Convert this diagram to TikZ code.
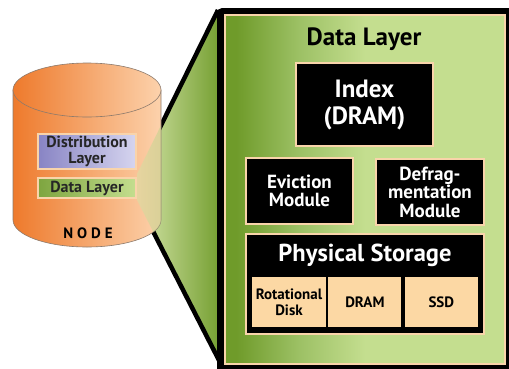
\documentclass[tikz,border=0pt]{standalone}
\usepackage{fontspec}
\setmainfont{PT Sans}
\usetikzlibrary{positioning}
\definecolor{cream}{HTML}{F9D4AA}
\definecolor{orangedark}{HTML}{EE7A2C}
\definecolor{peach}{HTML}{FCD2AC}
\definecolor{cylline}{HTML}{8C7A6C}
\definecolor{purpledark}{HTML}{8884C4}
\definecolor{purplelight}{HTML}{D6D5EF}
\definecolor{greendark}{HTML}{6F9B2A}
\definecolor{greenmid}{HTML}{9CC064}
\definecolor{greenlight}{HTML}{C4DE8F}
\definecolor{wedgelight}{HTML}{D4E4A8}
\definecolor{diskfill}{HTML}{FCD8A4}
\pgfdeclarehorizontalshading{panel shade}{100bp}{color(0bp)=(greendark); color(27bp)=(greendark); color(38bp)=(greenmid); color(50bp)=(greenlight); color(100bp)=(greenlight)}

\begin{document}
\begin{tikzpicture}[x=1pt,y=-1pt,
  layer box/.style={draw=cream,line width=2pt,minimum width=98pt,inner sep=0pt,align=center,text=black!85,font=\bfseries\fontsize{16}{15.5}\selectfont},
  module box/.style={draw=cream,line width=2pt,fill=black,text=white,inner sep=0pt,align=center,font=\bfseries\fontsize{19}{18.5}\selectfont},
  disk box/.style={fill=diskfill,minimum width=73pt,minimum height=50pt,inner sep=0pt,align=center,font=\bfseries\fontsize{15}{16}\selectfont}]

\useasboundingbox (0,0) rectangle (509,368);
\clip (0,0) rectangle (509,368);

\coordinate (apex top) at (137,174);
\coordinate (apex bot) at (137,200);
\coordinate (fan top) at (218,10);
\coordinate (fan bot) at (225,372);

\shade[left color=wedgelight,right color=greendark] (apex top) -- (fan top) -- (fan bot) -- (apex bot) -- cycle;
\draw[line width=4.5pt] (apex top) -- (fan top);
\draw[line width=4.5pt] (apex bot) -- (fan bot);

% cylinder
\path[draw=cylline,line width=0.6pt,left color=orangedark,right color=peach] (13,90) -- (13,220) arc[start angle=180,end angle=360,x radius=74pt,y radius=27pt] -- (161,90) -- cycle;
\path[draw=cylline,line width=0.6pt,left color=orangedark,right color=peach] (87,90) ellipse[x radius=74pt,y radius=27pt];
\begin{scope}
  \clip (13,90) -- (13,220) arc[start angle=180,end angle=360,x radius=74pt,y radius=27pt] -- (161,90) arc[start angle=0,end angle=180,x radius=74pt,y radius=27pt] -- cycle;
  \shade[left color=wedgelight,right color=greendark,opacity=0.5] (apex top) -- (fan top) -- (fan bot) -- (apex bot) -- cycle;
\end{scope}

\node[layer box,left color=purpledark,right color=purplelight,minimum height=35pt] (dist) at (87,151.5) {Distribution\\Layer};
\node[layer box,left color=greendark!90,right color=greenlight,minimum height=20pt] (dl) at (87,188) {Data Layer};
\node[font=\bfseries\fontsize{15}{16}\selectfont] (node label) at (88,233) {N\hspace{4pt}O\hspace{4pt}D\hspace{4pt}E};

% data layer panel
\fill[black,rounded corners=5pt] (217,8) rectangle (515,375);
\shade[shading=panel shade] (225,15) rectangle (505,364);
\draw[cream,line width=2pt] (225,15) rectangle (505,364);

\node[font=\bfseries\fontsize{25}{26}\selectfont] (title) at (364,39) {Data Layer};
\node[module box,minimum width=137pt,minimum height=83pt,font=\bfseries\fontsize{25}{27}\selectfont] (index) at (364.5,104.5) {Index\\(DRAM)};
\node[module box,minimum width=107pt,minimum height=66pt] (evict) at (299.5,191) {Eviction\\Module};
\node[module box,minimum width=108pt,minimum height=66pt] (defrag) at (430,192) {Defrag-\\mentation\\Module};
\node[module box,minimum width=238pt,minimum height=100pt] (phys) at (365,284) {};
\node[text=white,font=\bfseries\fontsize{24.5}{26}\selectfont] (phys title) at (365,255) {Physical Storage};
\node[disk box,minimum width=74pt] (rot) at (289,302) {Rotational\\Disk};
\node[disk box,right=2pt of rot] (dram) {DRAM};
\node[disk box,right=3pt of dram] (ssd) {SSD};

\end{tikzpicture}
\end{document}
